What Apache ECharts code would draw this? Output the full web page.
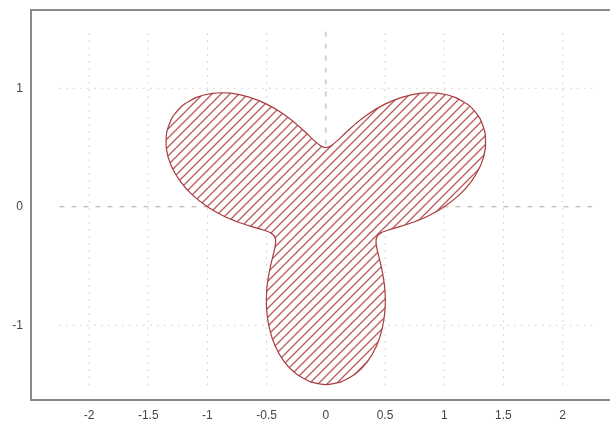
<!DOCTYPE html>
<html>
<head>
<meta charset="utf-8">
<title>trefoil</title>
<script src="https://cdn.jsdelivr.net/npm/echarts@6/dist/echarts.min.js"></script>
<style>
  html, body { margin: 0; padding: 0; background: #fff; }
  #main { width: 610px; height: 425px; }
</style>
</head>
<body>
<div id="main"></div>
<script>
// outline of the shape (x, y pairs going round)
var shapeX = [1.00, 1.125, 1.231, 1.308, 1.347, 1.344, 1.299, 1.215, 1.098, 0.957, 0.803, 0.648,
  0.500, 0.368, 0.257, 0.167, 0.098, 0.045, 0.000, -0.045, -0.098, -0.167, -0.257, -0.368,
  -0.500, -0.648, -0.803, -0.957, -1.098, -1.215, -1.299, -1.344, -1.347, -1.308, -1.231, -1.125,
  -1.000, -0.868, -0.739, -0.624, -0.533, -0.469, -0.433, -0.424, -0.434, -0.457, -0.482, -0.500,
  -0.500, -0.477, -0.428, -0.350, -0.249, -0.129, 0.000, 0.129, 0.249, 0.350, 0.428, 0.477,
  0.500, 0.500, 0.482, 0.457, 0.434, 0.424, 0.433, 0.469, 0.533, 0.624, 0.739, 0.868];
var shapeY = [0.000, 0.098, 0.217, 0.350, 0.490, 0.627, 0.750, 0.851, 0.921, 0.957, 0.958, 0.925,
  0.866, 0.789, 0.705, 0.624, 0.558, 0.515, 0.500, 0.515, 0.558, 0.624, 0.705, 0.789,
  0.866, 0.925, 0.958, 0.957, 0.921, 0.851, 0.750, 0.627, 0.490, 0.350, 0.217, 0.098,
  0.000, -0.076, -0.130, -0.167, -0.194, -0.218, -0.250, -0.297, -0.364, -0.457, -0.575, -0.714,
  -0.866, -1.023, -1.175, -1.308, -1.411, -1.477, -1.500, -1.477, -1.411, -1.308, -1.175, -1.023,
  -0.866, -0.714, -0.575, -0.457, -0.364, -0.297, -0.250, -0.218, -0.194, -0.167, -0.130, -0.076];

// tick labels and grid lines
var xTicks = [-2, -1.5, -1, -0.5, 0, 0.5, 1, 1.5, 2];
var yTicks = [-1, 0, 1];
var gridX = [-2, -1.5, -1, -0.5, 0.5, 1, 1.5, 2];
var gridY = [-1, 1];
var gridSpanX = [-2.25, 2.25];
var gridSpanY = [-1.5, 1.5];

var lineColor = '#a83c3c';
var frameColor = '#8a8a8a';

// hatch tile: white ground with "/" stripes
var tile = document.createElement('canvas');
tile.width = 9;
tile.height = 9;
var ctx = tile.getContext('2d');
ctx.fillStyle = '#fff';
ctx.fillRect(0, 0, 9, 9);
ctx.strokeStyle = '#bb5a5a';
ctx.lineWidth = 1.3;
ctx.beginPath();
ctx.moveTo(-1, 10); ctx.lineTo(10, -1);
ctx.moveTo(-1, 1); ctx.lineTo(1, -1);
ctx.moveTo(8, 10); ctx.lineTo(10, 8);
ctx.stroke();

var chart = echarts.init(document.getElementById('main'));

function vLine(dash, color) {
  return function (params, api) {
    var v = api.value(0);
    var p1 = api.coord([v, gridSpanY[0]]);
    var p2 = api.coord([v, gridSpanY[1]]);
    return {
      type: 'line',
      shape: { x1: p1[0], y1: p1[1], x2: p2[0], y2: p2[1] },
      style: { stroke: color, lineWidth: 1, lineDash: dash }
    };
  };
}
function hLine(dash, color) {
  return function (params, api) {
    var v = api.value(0);
    var p1 = api.coord([gridSpanX[0], v]);
    var p2 = api.coord([gridSpanX[1], v]);
    return {
      type: 'line',
      shape: { x1: p1[0], y1: p1[1], x2: p2[0], y2: p2[1] },
      style: { stroke: color, lineWidth: 1, lineDash: dash }
    };
  };
}

var labelStyle = { color: '#444', fontSize: 12, fontFamily: 'Liberation Sans, Arial' };

var option = {
  animation: false,
  grid: { left: 31, top: 10, right: 0, bottom: 25 },
  xAxis: [
    {
      type: 'value', min: -2.49, max: 2.40, position: 'bottom',
      axisLine: { show: true, onZero: false, lineStyle: { color: frameColor, width: 2 } },
      axisTick: { show: false }, splitLine: { show: false },
      axisLabel: Object.assign({ customValues: xTicks, margin: 10 }, labelStyle)
    },
    {
      type: 'value', min: -2.49, max: 2.40, position: 'top',
      axisLine: { show: true, onZero: false, lineStyle: { color: frameColor, width: 2 } },
      axisTick: { show: false }, splitLine: { show: false }, axisLabel: { show: false }
    }
  ],
  yAxis: {
    type: 'value', min: -1.63, max: 1.66, position: 'left',
    axisLine: { show: true, onZero: false, lineStyle: { color: frameColor, width: 2 } },
    axisTick: { show: false }, splitLine: { show: false },
    axisLabel: Object.assign({ customValues: yTicks, margin: 8 }, labelStyle)
  },
  series: [
    {
      type: 'custom', data: gridX.map(function (v) { return [v, 0]; }),
      renderItem: vLine([1, 6], '#b0b0b0'), silent: true, z: 1
    },
    {
      type: 'custom', data: gridY.map(function (v) { return [v, 0]; }),
      renderItem: hLine([1, 6], '#b0b0b0'), silent: true, z: 1
    },
    {
      type: 'custom', data: [[0, 0]],
      renderItem: vLine([5, 7], '#aaaaaa'), silent: true, z: 1
    },
    {
      type: 'custom', data: [[0, 0]],
      renderItem: hLine([5, 7], '#aaaaaa'), silent: true, z: 1
    },
    {
      type: 'custom', data: [[0, 0]], silent: true, z: 3,
      renderItem: function (params, api) {
        var pts = [];
        for (var i = 0; i < shapeX.length; i++) {
          pts.push(api.coord([shapeX[i], shapeY[i]]));
        }
        return {
          type: 'polygon',
          shape: { points: pts, smooth: 0.2 },
          style: {
            fill: { image: tile, repeat: 'repeat' },
            stroke: lineColor, lineWidth: 1.2
          }
        };
      }
    }
  ]
};
chart.setOption(option);
</script>
</body>
</html>
